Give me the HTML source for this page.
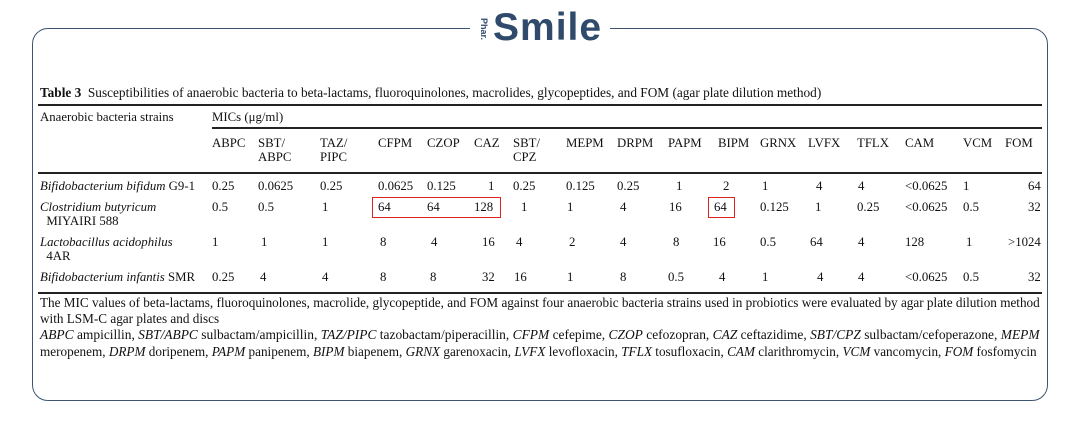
<!DOCTYPE html>
<html><head><meta charset="utf-8"><style>
body{margin:0;width:1080px;height:428px;background:#fff;position:relative;overflow:hidden;font-family:"Liberation Serif",serif;font-size:12.8px;color:#111}
.a{position:absolute;white-space:nowrap;line-height:14px}
.r{position:absolute;background:#222}
i{font-style:italic}
</style></head><body>
<div style="position:absolute;left:32px;top:28px;width:1014px;height:371px;border:1.5px solid #3d5570;border-radius:16px"></div>
<div style="position:absolute;left:470px;top:10px;width:140px;height:40px;background:#fff"></div>
<div class="a" style="left:473px;top:22px;font-size:9px;color:#2f4a6b;transform:rotate(90deg);font-family:'Liberation Sans',sans-serif;font-weight:bold">Phar.</div>
<div class="a" style="left:493px;top:7px;font-size:39px;line-height:42px;font-weight:bold;color:#2f4a6b;font-family:'Liberation Sans',sans-serif;letter-spacing:1px">Smile</div>

<div class="a" style="left:40px;top:86px;font-size:13.3px"><b>Table 3</b>&nbsp; Susceptibilities of anaerobic bacteria to beta-lactams, fluoroquinolones, macrolides, glycopeptides, and FOM (agar plate dilution method)</div>
<div class="r" style="left:38px;top:104px;width:1004px;height:2px"></div>
<div class="a" style="left:40px;top:110px">Anaerobic bacteria strains</div>
<div class="a" style="left:212px;top:110px">MICs (μg/ml)</div>
<div class="r" style="left:212px;top:127px;width:830px;height:1.5px"></div>
<div class="a" style="left:212px;top:136px">ABPC</div>
<div class="a" style="left:258px;top:136px">SBT/<br>ABPC</div>
<div class="a" style="left:320px;top:136px">TAZ/<br>PIPC</div>
<div class="a" style="left:378px;top:136px">CFPM</div>
<div class="a" style="left:427px;top:136px">CZOP</div>
<div class="a" style="left:474px;top:136px">CAZ</div>
<div class="a" style="left:513px;top:136px">SBT/<br>CPZ</div>
<div class="a" style="left:566px;top:136px">MEPM</div>
<div class="a" style="left:617px;top:136px">DRPM</div>
<div class="a" style="left:668px;top:136px">PAPM</div>
<div class="a" style="left:718px;top:136px">BIPM</div>
<div class="a" style="left:760px;top:136px">GRNX</div>
<div class="a" style="left:808px;top:136px">LVFX</div>
<div class="a" style="left:857px;top:136px">TFLX</div>
<div class="a" style="left:905px;top:136px">CAM</div>
<div class="a" style="left:963px;top:136px">VCM</div>
<div class="a" style="left:1005px;top:136px">FOM</div>
<div class="r" style="left:38px;top:172px;width:1004px;height:2px"></div>

<div class="a" style="left:40px;top:179px"><i>Bifidobacterium bifidum</i> G9-1</div>
<div class="a" style="left:212px;top:179px">0.25</div><div class="a" style="left:258px;top:179px">0.0625</div><div class="a" style="left:320px;top:179px">0.25</div><div class="a" style="left:378px;top:179px">0.0625</div><div class="a" style="left:427px;top:179px">0.125</div><div class="a" style="left:488px;top:179px">1</div><div class="a" style="left:513px;top:179px">0.25</div><div class="a" style="left:566px;top:179px">0.125</div><div class="a" style="left:617px;top:179px">0.25</div><div class="a" style="left:676px;top:179px">1</div><div class="a" style="left:723px;top:179px">2</div><div class="a" style="left:762px;top:179px">1</div><div class="a" style="left:816px;top:179px">4</div><div class="a" style="left:858px;top:179px">4</div><div class="a" style="left:905px;top:179px">&lt;0.0625</div><div class="a" style="left:963px;top:179px">1</div><div class="a" style="left:1028px;top:179px">64</div>

<div class="a" style="left:40px;top:200px"><i>Clostridium butyricum</i><br>&nbsp;&nbsp;MIYAIRI 588</div>
<div style="position:absolute;left:372px;top:197px;width:127px;height:19px;border:1.5px solid #d22"></div>
<div style="position:absolute;left:708px;top:197px;width:25px;height:19px;border:1.5px solid #d22"></div>
<div class="a" style="left:212px;top:200px">0.5</div><div class="a" style="left:258px;top:200px">0.5</div><div class="a" style="left:322px;top:200px">1</div><div class="a" style="left:378px;top:200px">64</div><div class="a" style="left:427px;top:200px">64</div><div class="a" style="left:474px;top:200px">128</div><div class="a" style="left:521px;top:200px">1</div><div class="a" style="left:567px;top:200px">1</div><div class="a" style="left:620px;top:200px">4</div><div class="a" style="left:669px;top:200px">16</div><div class="a" style="left:714px;top:200px">64</div><div class="a" style="left:760px;top:200px">0.125</div><div class="a" style="left:815px;top:200px">1</div><div class="a" style="left:857px;top:200px">0.25</div><div class="a" style="left:905px;top:200px">&lt;0.0625</div><div class="a" style="left:963px;top:200px">0.5</div><div class="a" style="left:1028px;top:200px">32</div>

<div class="a" style="left:40px;top:235px"><i>Lactobacillus acidophilus</i><br>&nbsp;&nbsp;4AR</div>
<div class="a" style="left:212px;top:235px">1</div><div class="a" style="left:261px;top:235px">1</div><div class="a" style="left:322px;top:235px">1</div><div class="a" style="left:380px;top:235px">8</div><div class="a" style="left:431px;top:235px">4</div><div class="a" style="left:482px;top:235px">16</div><div class="a" style="left:516px;top:235px">4</div><div class="a" style="left:569px;top:235px">2</div><div class="a" style="left:620px;top:235px">4</div><div class="a" style="left:673px;top:235px">8</div><div class="a" style="left:713px;top:235px">16</div><div class="a" style="left:760px;top:235px">0.5</div><div class="a" style="left:810px;top:235px">64</div><div class="a" style="left:858px;top:235px">4</div><div class="a" style="left:905px;top:235px">128</div><div class="a" style="left:966px;top:235px">1</div><div class="a" style="left:1008px;top:235px">&gt;1024</div>

<div class="a" style="left:40px;top:270px"><i>Bifidobacterium infantis</i> SMR</div>
<div class="a" style="left:212px;top:270px">0.25</div><div class="a" style="left:260px;top:270px">4</div><div class="a" style="left:322px;top:270px">4</div><div class="a" style="left:380px;top:270px">8</div><div class="a" style="left:430px;top:270px">8</div><div class="a" style="left:482px;top:270px">32</div><div class="a" style="left:514px;top:270px">16</div><div class="a" style="left:567px;top:270px">1</div><div class="a" style="left:620px;top:270px">8</div><div class="a" style="left:668px;top:270px">0.5</div><div class="a" style="left:719px;top:270px">4</div><div class="a" style="left:762px;top:270px">1</div><div class="a" style="left:817px;top:270px">4</div><div class="a" style="left:858px;top:270px">4</div><div class="a" style="left:905px;top:270px">&lt;0.0625</div><div class="a" style="left:963px;top:270px">0.5</div><div class="a" style="left:1028px;top:270px">32</div>
<div class="r" style="left:38px;top:292px;width:1004px;height:2px"></div>

<div class="a" style="left:40px;top:295px;line-height:15.5px;font-size:13.2px">The MIC values of beta-lactams, fluoroquinolones, macrolide, glycopeptide, and FOM against four anaerobic bacteria strains used in probiotics were evaluated by agar plate dilution method<br>with LSM-C agar plates and discs</div>
<div class="a" style="left:40px;top:326px;line-height:17px;font-size:13.45px"><i>ABPC</i> ampicillin, <i>SBT/ABPC</i> sulbactam/ampicillin, <i>TAZ/PIPC</i> tazobactam/piperacillin, <i>CFPM</i> cefepime, <i>CZOP</i> cefozopran, <i>CAZ</i> ceftazidime, <i>SBT/CPZ</i> sulbactam/cefoperazone, <i>MEPM</i></div>
<div class="a" style="left:40px;top:343px;line-height:17px;font-size:13.2px">meropenem, <i>DRPM</i> doripenem, <i>PAPM</i> panipenem, <i>BIPM</i> biapenem, <i>GRNX</i> garenoxacin, <i>LVFX</i> levofloxacin, <i>TFLX</i> tosufloxacin, <i>CAM</i> clarithromycin, <i>VCM</i> vancomycin, <i>FOM</i> fosfomycin</div>
</body></html>
